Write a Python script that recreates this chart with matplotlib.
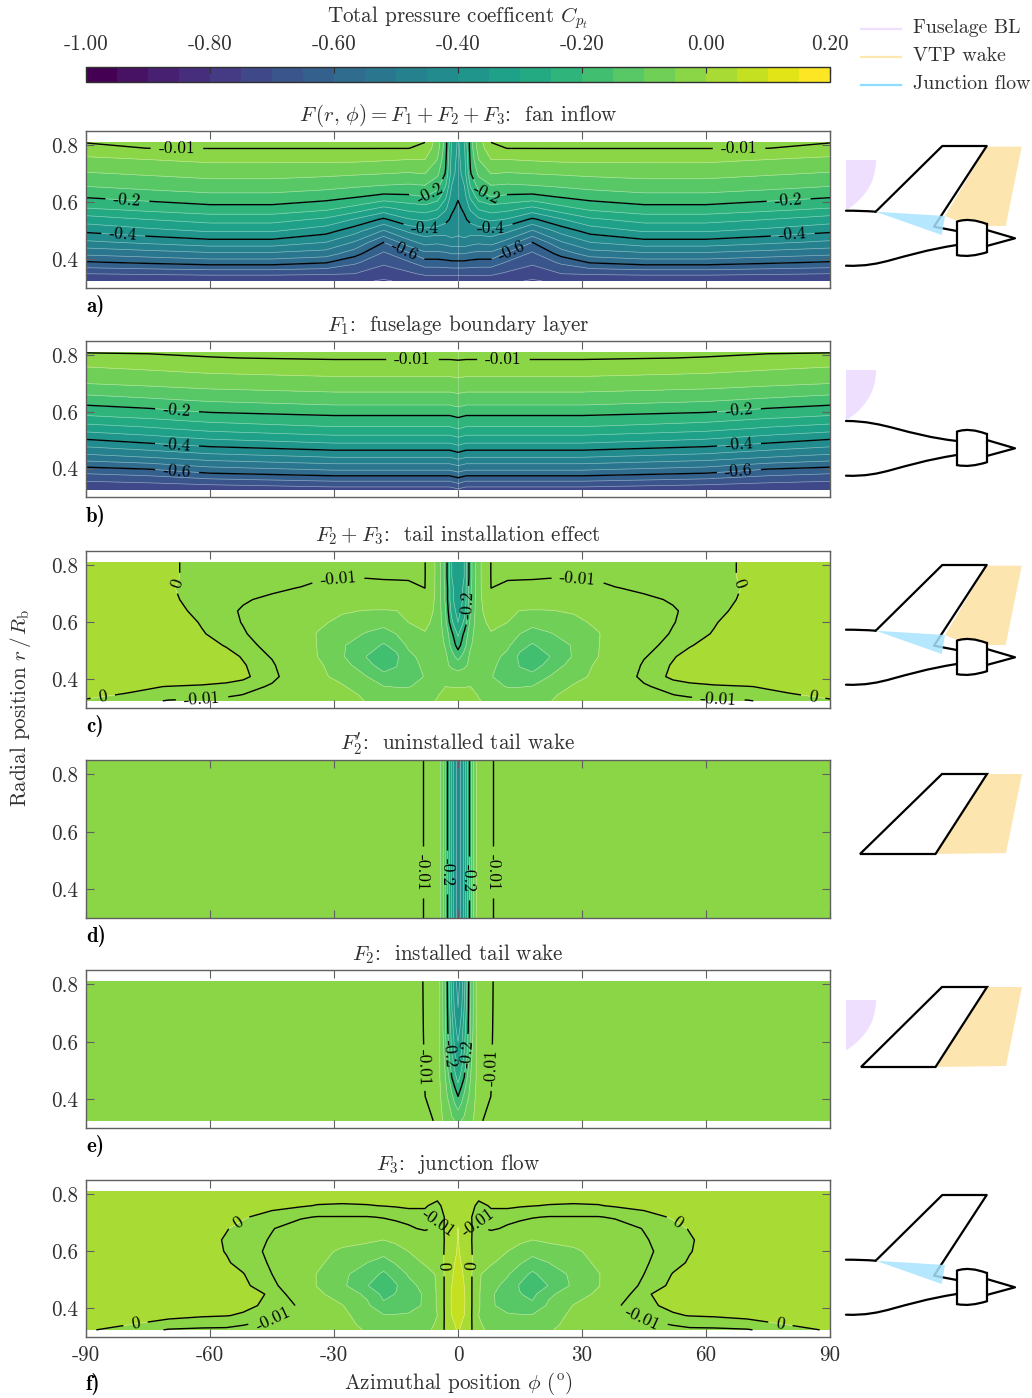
import numpy as np
import matplotlib
matplotlib.use("Agg")
import matplotlib.pyplot as plt
from matplotlib.colors import BoundaryNorm
from matplotlib.cm import ScalarMappable
from matplotlib.patches import PathPatch, Polygon
from matplotlib.path import Path

plt.rcParams['font.family'] = ['cmr10', 'DejaVu Sans']
plt.rcParams['mathtext.fontset'] = 'cm'
plt.rcParams['axes.formatter.use_mathtext'] = True
plt.rcParams['axes.unicode_minus'] = False

W, H = 1032, 1398
DARK = '#303030'
EDGE = '#606060'
FS = 15.2

cb_ticks = [-1.0, -0.8, -0.6, -0.4, -0.2, 0.0, 0.2]
x_ticks = [-90, -60, -30, 0, 30, 60, 90]
y_ticks = [0.4, 0.6, 0.8]

titles = [r'$F\,(r,\,\phi)=F_1+F_2+F_3$:  fan inflow',
          r'$F_1$:  fuselage boundary layer',
          r'$F_2+F_3$:  tail installation effect',
          r"$F_2'$:  uninstalled tail wake",
          r'$F_2$:  installed tail wake',
          r'$F_3$:  junction flow']
tags = ['a)', 'b)', 'c)', 'd)', 'e)', 'f)']

# panel a, one list per phi, r from hub to tip
r_a = [.325, .35, .39, .42, .46, .50, .54, .58, .62, .66, .70, .75, .79, .81]
phi_a = [0, 1.5, 3, 5, 8, 12, 18, 25, 32, 45, 60, 75, 90]
F_a = np.array([
    [-.73, -.69, -.61, -.55, -.47, -.435, -.425, -.41, -.395, -.38, -.37, -.365, -.36, -.36],
    [-.73, -.69, -.61, -.55, -.47, -.42, -.41, -.39, -.375, -.35, -.33, -.32, -.31, -.30],
    [-.73, -.69, -.615, -.56, -.48, -.43, -.385, -.34, -.29, -.245, -.205, -.19, -.18, -.18],
    [-.73, -.69, -.62, -.565, -.49, -.425, -.36, -.29, -.225, -.18, -.14, -.10, -.075, -.07],
    [-.735, -.69, -.62, -.565, -.48, -.42, -.34, -.27, -.20, -.15, -.10, -.05, -.02, -.01],
    [-.74, -.71, -.655, -.61, -.52, -.44, -.355, -.28, -.21, -.155, -.105, -.05, -.009, -.007],
    [-.755, -.73, -.69, -.66, -.60, -.505, -.41, -.31, -.215, -.15, -.10, -.045, -.009, -.006],
    [-.74, -.70, -.64, -.58, -.505, -.43, -.355, -.265, -.195, -.14, -.095, -.04, -.009, -.006],
    [-.74, -.695, -.595, -.525, -.45, -.38, -.31, -.235, -.18, -.13, -.09, -.04, -.009, -.006],
    [-.74, -.69, -.575, -.51, -.42, -.345, -.28, -.215, -.165, -.12, -.085, -.04, -.009, -.006],
    [-.74, -.69, -.575, -.51, -.42, -.345, -.28, -.215, -.165, -.12, -.085, -.04, -.009, -.006],
    [-.74, -.695, -.59, -.525, -.44, -.365, -.30, -.23, -.18, -.13, -.095, -.05, -.0095, -.007],
    [-.745, -.70, -.605, -.54, -.46, -.39, -.325, -.25, -.195, -.145, -.105, -.06, -.02, -.009],
]).T

# panel b, one list per phi
r_b = [.325, .35, .39, .44, .49, .54, .58, .62, .66, .70, .75, .79, .81]
phi_b = [0, 2, 15, 30, 60, 75, 90]
F_b = np.array([
    [-.71, -.645, -.545, -.435, -.335, -.25, -.20, -.147, -.105, -.065, -.027, -.006, -.004],
    [-.725, -.665, -.56, -.45, -.35, -.26, -.21, -.155, -.11, -.07, -.03, -.007, -.004],
    [-.725, -.665, -.56, -.45, -.35, -.26, -.21, -.155, -.11, -.07, -.03, -.007, -.004],
    [-.725, -.665, -.56, -.45, -.35, -.26, -.21, -.155, -.11, -.07, -.03, -.007, -.004],
    [-.74, -.685, -.585, -.475, -.375, -.285, -.225, -.17, -.122, -.08, -.038, -.011, -.006],
    [-.745, -.70, -.62, -.50, -.40, -.31, -.245, -.19, -.135, -.09, -.048, -.016, -.008],
    [-.75, -.71, -.635, -.52, -.425, -.33, -.26, -.205, -.15, -.10, -.058, -.02, -.009],
]).T

# panels c and f, one list per r
r_cf = [.325, .345, .375, .41, .45, .48, .52, .56, .60, .64, .68, .72, .76, .81]
phi_cf = [0, 1.5, 3, 5, 8, 12, 15, 18, 22, 28, 34, 38, 45, 52, 56, 62, 70, 80, 90]
F_c = np.array([
    [-.02, -.025, -.035, -.048, -.058, -.06, -.06, -.058, -.052, -.035, -.022, -.02, -.017, -.015, -.014, -.012, -.011, -.004, -.001],
    [-.03, -.03, -.04, -.052, -.07, -.08, -.08, -.075, -.055, -.04, -.025, -.018, -.015, -.0105, -.008, -.006, -.004, -.001, .002],
    [-.053, -.052, -.05, -.058, -.09, -.102, -.102, -.098, -.08, -.045, -.03, -.018, -.012, -.004, -.003, -.002, -.0005, .003, .006],
    [-.08, -.075, -.07, -.07, -.098, -.12, -.135, -.14, -.10, -.065, -.038, -.022, -.006, .002, .005, .01, .015, .02, .022],
    [-.12, -.11, -.09, -.07, -.09, -.12, -.153, -.165, -.14, -.075, -.042, -.025, -.008, .001, .005, .01, .015, .02, .025],
    [-.17, -.13, -.09, -.075, -.08, -.115, -.16, -.175, -.152, -.095, -.05, -.03, -.011, -.001, .004, .008, .015, .02, .025],
    [-.22, -.17, -.105, -.075, -.065, -.09, -.135, -.155, -.13, -.095, -.051, -.03, -.014, -.006, -.001, .005, .015, .022, .024],
    [-.26, -.19, -.12, -.065, -.052, -.07, -.10, -.125, -.105, -.075, -.052, -.03, -.016, -.009, -.005, .001, .012, .02, .022],
    [-.30, -.24, -.14, -.06, -.043, -.05, -.065, -.08, -.072, -.06, -.042, -.025, -.016, -.0105, -.007, -.001, .008, .018, .02],
    [-.32, -.27, -.15, -.06, -.03, -.04, -.051, -.053, -.052, -.046, -.03, -.02, -.015, -.011, -.008, -.003, .004, .016, .018],
    [-.33, -.29, -.16, -.06, -.02, -.022, -.024, -.025, -.025, -.024, -.02, -.015, -.012, -.009, -.004, -.002, .001, .014, .016],
    [-.33, -.29, -.16, -.06, -.010, -.014, -.015, -.016, -.016, -.015, -.013, -.0105, -.008, -.005, -.004, -.002, .0005, .012, .014],
    [-.34, -.30, -.17, -.06, -.009, -.008, -.008, -.008, -.009, -.009, -.008, -.006, -.005, -.004, -.003, -.002, .001, .012, .014],
    [-.34, -.30, -.17, -.06, -.009, -.006, -.005, -.005, -.005, -.005, -.005, -.005, -.004, -.004, -.003, -.002, .001, .01, .012],
])
F_f = np.array([
    [.055, .035, .01, -.045, -.055, -.06, -.065, -.062, -.053, -.038, -.025, -.018, -.013, -.012, -.012, -.012, -.011, -.003, .001],
    [.06, .04, .01, -.045, -.065, -.075, -.08, -.078, -.058, -.04, -.03, -.018, -.012, -.0095, -.007, -.006, -.003, .0005, .005],
    [.065, .05, .01, -.05, -.085, -.095, -.095, -.095, -.06, -.045, -.03, -.018, -.008, -.001, .0003, .001, .002, .005, .006],
    [.07, .055, .01, -.045, -.095, -.115, -.135, -.14, -.09, -.048, -.035, -.012, -.002, .002, .004, .005, .006, .006, .006],
    [.07, .055, .01, -.045, -.095, -.12, -.148, -.163, -.11, -.07, -.042, -.02, -.001, .003, .005, .006, .006, .006, .006],
    [.07, .05, .01, -.045, -.085, -.115, -.155, -.178, -.148, -.09, -.052, -.025, -.006, .002, .005, .006, .006, .006, .006],
    [.07, .045, .01, -.045, -.07, -.095, -.13, -.16, -.125, -.09, -.052, -.028, -.01, .0005, .003, .006, .006, .006, .006],
    [.06, .04, .01, -.03, -.045, -.07, -.095, -.122, -.10, -.07, -.042, -.025, -.0115, -.003, .001, .005, .006, .006, .006],
    [.055, .03, .005, -.02, -.035, -.05, -.065, -.082, -.07, -.058, -.035, -.022, -.012, -.006, -.0005, .004, .006, .006, .006],
    [.053, .025, .003, -.015, -.02, -.03, -.042, -.05, -.042, -.035, -.025, -.02, -.011, -.005, -.001, .004, .006, .006, .006],
    [.052, .02, .003, -.012, -.008, -.012, -.014, -.015, -.017, -.018, -.018, -.015, -.0095, -.003, .0005, .005, .006, .006, .006],
    [.03, .015, .002, -.0105, -.003, -.006, -.008, -.0095, -.0105, -.0105, -.0105, -.009, -.004, .001, .003, .005, .006, .006, .006],
    [.012, .01, .004, -.003, .001, .002, .001, .0003, -.0005, -.001, -.0005, .001, .003, .005, .006, .006, .006, .006, .006],
    [.01, .008, .006, .006, .006, .006, .006, .006, .006, .006, .006, .006, .006, .006, .006, .006, .006, .006, .006],
])

# panel d does not change with r
r_d = [.30, .85]
phi_de = [0, .8, 1.5, 2.6, 3.4, 4.4, 6, 8.5, 12, 90]
F_d_row = [-.42, -.38, -.32, -.2, -.12, -.05, -.02, -.01, -.005, -.005]
F_d = np.array([F_d_row, F_d_row])

# panel e, one list per r
r_e = [.325, .41, .476, .56, .64, .72, .81]
F_e = np.array([
    [-.11, -.10, -.09, -.07, -.055, -.04, -.01, -.007, -.005, -.005],
    [-.20, -.17, -.14, -.10, -.07, -.045, -.017, -.008, -.005, -.005],
    [-.27, -.23, -.20, -.125, -.08, -.05, -.019, -.0085, -.005, -.005],
    [-.33, -.30, -.25, -.17, -.10, -.05, -.02, -.009, -.005, -.005],
    [-.37, -.33, -.27, -.19, -.115, -.05, -.02, -.0095, -.005, -.005],
    [-.40, -.36, -.30, -.195, -.12, -.05, -.02, -.0098, -.005, -.005],
    [-.42, -.38, -.32, -.2, -.12, -.05, -.02, -.01, -.005, -.005],
])

# black contour levels of each panel
black_a = [-.6, -.4, -.2, -.01]
black_c = [-.2, -.01, .0]
black_d = [-.2, -.01]
black_f = [.0]

# where the contour labels sit (phi, r)
labels_a = [(-68, .79), (68, .79), (-80, .605), (80, .605), (-7, .635), (7, .635),
            (-81, .485), (81, .485), (-8, .51), (8, .51), (-13, .43), (13, .43)]
labels_b = [(-11, .775), (11, .775), (-68, .60), (68, .60), (-68, .483), (68, .483),
            (-68, .385), (68, .385)]
labels_c = [(-68.7, .74), (68.7, .74), (-29, .752), (29, .752), (2.2, .66),
            (-86, .345), (86, .345), (-62, .345), (63, .337)]
labels_d = [(-8.5, .46), (8.5, .46), (-2.6, .46), (2.6, .44)]
labels_e = [(-8, .51), (8, .51), (-2.2, .56), (2.2, .56)]
labels_f = [(-53, .70), (53, .70), (-3.3, .55), (3.3, .55), (-78, .345), (78, .345)]
labels_f_low = [(-4.7, .70), (4.7, .70), (-45, .37), (45, .37)]

panels = [
    (r_a, phi_a, F_a, black_a, labels_a, (131, 288)),
    (r_b, phi_b, F_b, black_a, labels_b, (341, 497)),
    (r_cf, phi_cf, F_c, black_c, labels_c, (551, 708)),
    (r_d, phi_de, F_d, black_d, labels_d, (760, 918)),
    (r_e, phi_de, F_e, black_d, labels_e, (970, 1128)),
    (r_cf, phi_cf, F_f, black_f, labels_f, (1180, 1337)),
]

levels = np.linspace(-1, 0.2, 25)
cmap = plt.get_cmap('viridis', 24)
norm = BoundaryNorm(levels, 24)


def fmt_label(v):
    if abs(v) < 1e-9:
        return '0'
    if abs(v) < 0.05:
        return '%.2f' % v
    return '%.1f' % v


def pixel_axes(left, top, right, bottom):
    return fig.add_axes([left / W, 1 - bottom / H, (right - left) / W, (bottom - top) / H])


def style_box(ax):
    for s in ax.spines.values():
        s.set_color(EDGE)
        s.set_linewidth(1.0)
    ax.tick_params(direction='in', length=5.5, width=0.8, color=EDGE, labelcolor=DARK,
                   labelsize=FS, top=True, right=True, pad=6)


fig = plt.figure(figsize=(W / 100, H / 100), dpi=100)

for i, (r, phi, F, black, lab, (top, bottom)) in enumerate(panels):
    ax = pixel_axes(86, top, 830, bottom)
    phi = np.array(phi, dtype=float)
    phi_full = np.concatenate([-phi[:0:-1], phi])
    F_full = np.concatenate([F[:, :0:-1], F], axis=1)
    ax.contourf(phi_full, r, F_full, levels=levels, cmap=cmap, norm=norm)
    ax.contour(phi_full, r, F_full, levels=levels, colors='w', linewidths=0.5, alpha=0.45,
               linestyles='solid')
    if i < 2:
        ax.plot([0, 0], [r[0], r[-1]], color='w', lw=0.5, alpha=0.35)
    cs = ax.contour(phi_full, r, F_full, levels=black, colors='k', linewidths=1.0, linestyles='solid')
    ax.clabel(cs, fmt=fmt_label, fontsize=12.5, inline=True, inline_spacing=8, manual=lab)
    if i == 5:
        # -0.01 runs on top of the 0 line close to the centre, so it is only drawn away from it
        PHI, R = np.meshgrid(phi_full, r)
        F_low = np.ma.masked_where((np.abs(PHI) <= 5) & (R <= .64), F_full)
        cs_low = ax.contour(phi_full, r, F_low, levels=[-.01], colors='k', linewidths=1.0,
                            linestyles='solid')
        ax.clabel(cs_low, fmt=fmt_label, fontsize=12.5, inline=True, inline_spacing=8,
                  manual=labels_f_low)
    ax.set_xlim(-90, 90)
    ax.set_ylim(0.30, 0.85)
    ax.set_xticks(x_ticks)
    ax.set_yticks(y_ticks)
    ax.set_yticklabels(['%.1f' % v for v in y_ticks])
    style_box(ax)
    if i == 5:
        ax.set_xticklabels(['%d' % v for v in x_ticks])
        ax.set_xlabel(r'Azimuthal position $\phi$ ($^{\mathrm{o}}$)', fontsize=FS, color=DARK, labelpad=4)
    else:
        ax.set_xticklabels([])
    ax.set_title(titles[i], fontsize=FS, color=DARK, pad=7)

# colour bar
cax = pixel_axes(86, 67, 830, 82)
cb = fig.colorbar(ScalarMappable(norm=norm, cmap=cmap), cax=cax, orientation='horizontal',
                  ticks=cb_ticks, spacing='uniform', drawedges=False)
cb.ax.xaxis.set_ticks_position('top')
cb.ax.xaxis.set_label_position('top')
cb.set_ticklabels(['%.2f' % v for v in cb_ticks])
cb.ax.minorticks_off()
cb.ax.tick_params(direction='in', length=4, width=0.8, color='#303030', labelcolor=DARK,
                  labelsize=FS, pad=9)
cb.outline.set_edgecolor('#303030')
cb.outline.set_linewidth(1.0)

# everything below is placed in pixels of the page
page = fig.add_axes([0, 0, 1, 1], zorder=10)
page.set_xlim(0, W)
page.set_ylim(H, 0)
page.axis('off')
page.patch.set_alpha(0)

page.text(458, 18, r'Total pressure coefficent $C_{p_t}$', ha='center', va='center',
          fontsize=FS, color=DARK)
page.text(21, 708, r'Radial position $r\,/\,R_{\mathrm{b}}$', ha='center', va='center',
          rotation=90, fontsize=FS, color=DARK)

tag_y = [306, 516, 726, 936, 1146, 1384]
for tag, y in zip(tags, tag_y):
    page.text(86, y, tag, family='cmb10', fontsize=15, color='k', va='center')

PURPLE = '#eedfff'
ORANGE = '#fde5b0'
BLUE = '#a8e4ff'
legend_rows = [('Fuselage BL', PURPLE, 29), ('VTP wake', '#fde9b0', 57), ('Junction flow', '#8fdcff', 85)]
for name, col, y in legend_rows:
    page.plot([861, 901], [y, y], color=col, lw=1.6)
    page.text(913, y - 1, name, fontsize=14.3, color=DARK, va='center')


def curve(pts, dy, **kw):
    verts = [(x, y + dy) for x, y in pts]
    codes = [Path.MOVETO] + [Path.CURVE4] * (len(pts) - 1)
    page.add_patch(PathPatch(Path(verts, codes), **kw))


def sketch(dy, purple=False, orange=False, blue=False, tail=True, body=True):
    line = dict(fc='none', ec='k', lw=1.6, capstyle='round', zorder=5)
    if purple:
        curve([(846, 160), (846, 160), (876, 160), (876, 160),
               (876, 185), (862, 200), (846, 210.5), (846, 210.5), (846, 160), (846, 160)],
              dy, fc=PURPLE, ec='none', zorder=2)
    if orange:
        page.add_patch(Polygon([(986.7, 146.7 + dy), (1021.7, 146.7 + dy), (1005.7, 226 + dy),
                                (970, 226 + dy), (945, 216 + dy)], fc=ORANGE, ec='none', zorder=2))
    if tail:
        page.plot([875.7, 942.3, 986.7, 934, 956.7],
                  [211.7 + dy, 146 + dy, 146 + dy, 226.7 + dy, 231 + dy],
                  color='k', lw=1.6, zorder=5, solid_capstyle='round')
        curve([(846, 210.7), (856, 210.7), (866, 211), (875.7, 211.7)], dy, **line)
    else:
        curve([(846, 211), (885, 211), (905, 225), (957, 231)], dy, **line)
    if blue:
        page.add_patch(Polygon([(875.7, 211.7 + dy), (945, 216 + dy), (941.7, 235 + dy)],
                               fc=BLUE, ec='none', alpha=0.85, zorder=6))
    if body:
        curve([(846, 265.7), (885, 267), (895, 255), (956.7, 245)], dy, **line)
        curve([(956.7, 221.7), (966, 218.5), (976, 220), (986.7, 224)], dy, fc='none', ec='k', lw=1.6, zorder=8)
        curve([(956.7, 255), (966, 257), (976, 255.5), (986.7, 252.3)], dy, fc='none', ec='k', lw=1.6, zorder=8)
        page.add_patch(Polygon([(956.7, 221.7 + dy), (970, 219.3 + dy), (986.7, 224 + dy), (986.7, 252.3 + dy),
                                (970, 256 + dy), (956.7, 255 + dy)], fc='w', ec='none', zorder=7))
        page.plot([956.7, 956.7], [221.7 + dy, 255 + dy], color='k', lw=1.6, zorder=8)
        page.plot([986.7, 986.7], [224 + dy, 252.3 + dy], color='k', lw=1.6, zorder=8)
        page.plot([986.7, 1015, 986.7], [230 + dy, 238.3 + dy, 246 + dy], color='k', lw=1.6, zorder=5)


def short_tail(dy, x0):
    page.add_patch(Polygon([(987, 146 + dy), (1022, 146 + dy), (1006, 225 + dy), (936, 226 + dy)],
                           fc=ORANGE, ec='none', zorder=2))
    page.add_patch(Polygon([(x0, 226 + dy), (942, 146 + dy), (987, 146 + dy), (935.5, 226 + dy)],
                           fc='none', ec='k', lw=1.6, zorder=5))


sketch(0, purple=True, orange=True, blue=True)
sketch(210, purple=True, tail=False)
sketch(419, orange=True, blue=True)
short_tail(628, 860)
short_tail(841, 861)
curve([(846, 1000), (846, 1000), (876, 1000), (876, 1000),
       (876, 1025), (862, 1040), (846, 1050.5), (846, 1050.5), (846, 1000), (846, 1000)],
      0, fc=PURPLE, ec='none', zorder=2)
sketch(1049, blue=True)

fig.savefig('out.png', dpi=100)
